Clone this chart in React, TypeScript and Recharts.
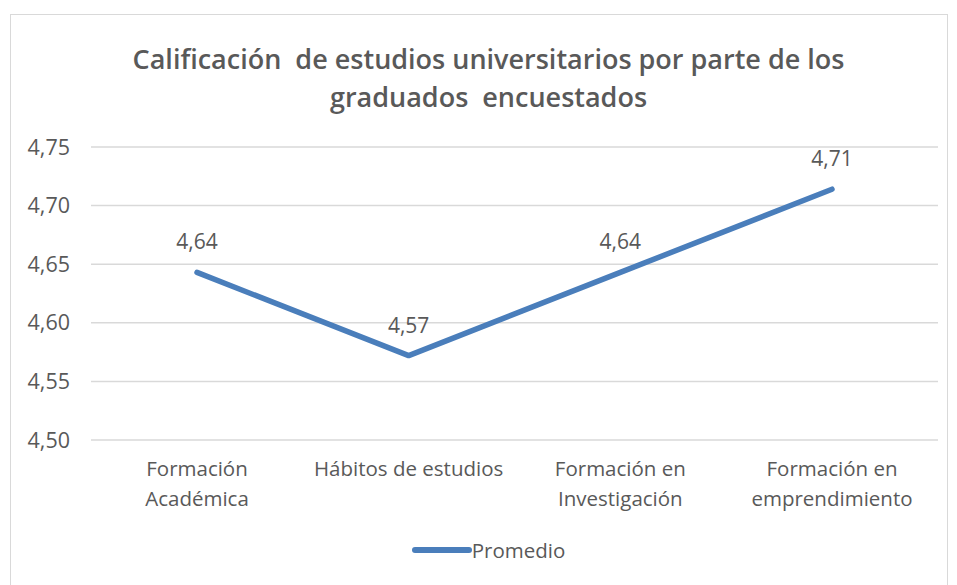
import { LineChart, Line, XAxis, YAxis, CartesianGrid, LabelList } from "recharts";

const categories = [
  "Formación\nAcadémica",
  "Hábitos de estudios",
  "Formación en\nInvestigación",
  "Formación en\nemprendimiento",
];
const promedio = [4.643, 4.572, 4.643, 4.714];
const yTicks = [4.5, 4.55, 4.6, 4.65, 4.7, 4.75];

const data = categories.map((name, i) => ({ name, promedio: promedio[i] }));

const FONT = "'Open Sans', sans-serif";
const INK = "#595959";
const BLUE = "#4a7ebb";

const fmt = (v: number) => v.toFixed(2).replace(".", ",");

const CategoryTick = (props: any) => {
  const { x, y, payload } = props;
  const lines = String(payload.value).split("\n");
  return (
    <text x={x} y={y} textAnchor="middle" fill={INK} fontSize={20.5} fontFamily={FONT}>
      {lines.map((l, i) => (
        <tspan key={i} x={x} dy={i === 0 ? 28 : 30}>
          {l}
        </tspan>
      ))}
    </text>
  );
};

const ValueLabel = (props: any) => {
  const { x, y, value } = props;
  return (
    <text
      x={x}
      y={y - 31}
      textAnchor="middle"
      dominantBaseline="central"
      fill={INK}
      fontSize={21}
      fontFamily={FONT}
    >
      {fmt(value)}
    </text>
  );
};

export default function App() {
  return (
    <div
      style={{
        position: "absolute",
        left: 0,
        top: 0,
        width: 957,
        height: 585,
        background: "#fff",
        overflow: "hidden",
        fontFamily: FONT,
      }}
    >
      <div
        style={{
          position: "absolute",
          left: 10,
          top: 14,
          width: 938,
          height: 620,
          border: "1px solid #d9d9d9",
          boxSizing: "border-box",
        }}
      />
      <div
        style={{
          position: "absolute",
          left: 10,
          top: 40,
          width: 957,
          textAlign: "center",
          color: INK,
          fontSize: 27,
          fontWeight: 600,
          lineHeight: "38px",
        }}
      >
        Calificación&nbsp; de estudios universitarios por parte de los
        <br />
        graduados&nbsp; encuestados
      </div>
      <div style={{ position: "absolute", left: 0, top: 0 }}>
        <LineChart
          width={957}
          height={585}
          data={data}
          margin={{ top: 147, right: 19, left: 10, bottom: 65 }}
        >
          <CartesianGrid vertical={false} stroke="#d9d9d9" strokeWidth={1.5} />
          <XAxis
            dataKey="name"
            interval={0}
            axisLine={false}
            tickLine={false}
            height={80}
            padding={{ left: 106, right: 106 }}
            tick={<CategoryTick />}
          />
          <YAxis
            domain={[4.5, 4.75]}
            ticks={yTicks}
            width={81}
            axisLine={false}
            tickLine={false}
            tickMargin={15}
            tickFormatter={fmt}
            tick={{ fill: INK, fontSize: 21.5, fontFamily: FONT }}
          />
          <Line
            type="linear"
            dataKey="promedio"
            name="Promedio"
            stroke={BLUE}
            strokeWidth={5.5}
            strokeLinecap="round"
            strokeLinejoin="round"
            dot={false}
            activeDot={false}
            isAnimationActive={false}
          >
            <LabelList dataKey="promedio" content={<ValueLabel />} />
          </Line>
        </LineChart>
      </div>
      <div
        style={{
          position: "absolute",
          left: 0,
          top: 536,
          width: 957,
          display: "flex",
          justifyContent: "center",
          alignItems: "center",
          color: INK,
          fontSize: 20.5,
        }}
      >
        <span
          style={{
            display: "inline-block",
            width: 60,
            height: 6,
            borderRadius: 3,
            background: BLUE,
            marginLeft: 20,
          }}
        />
        <span>Promedio</span>
      </div>
    </div>
  );
}
